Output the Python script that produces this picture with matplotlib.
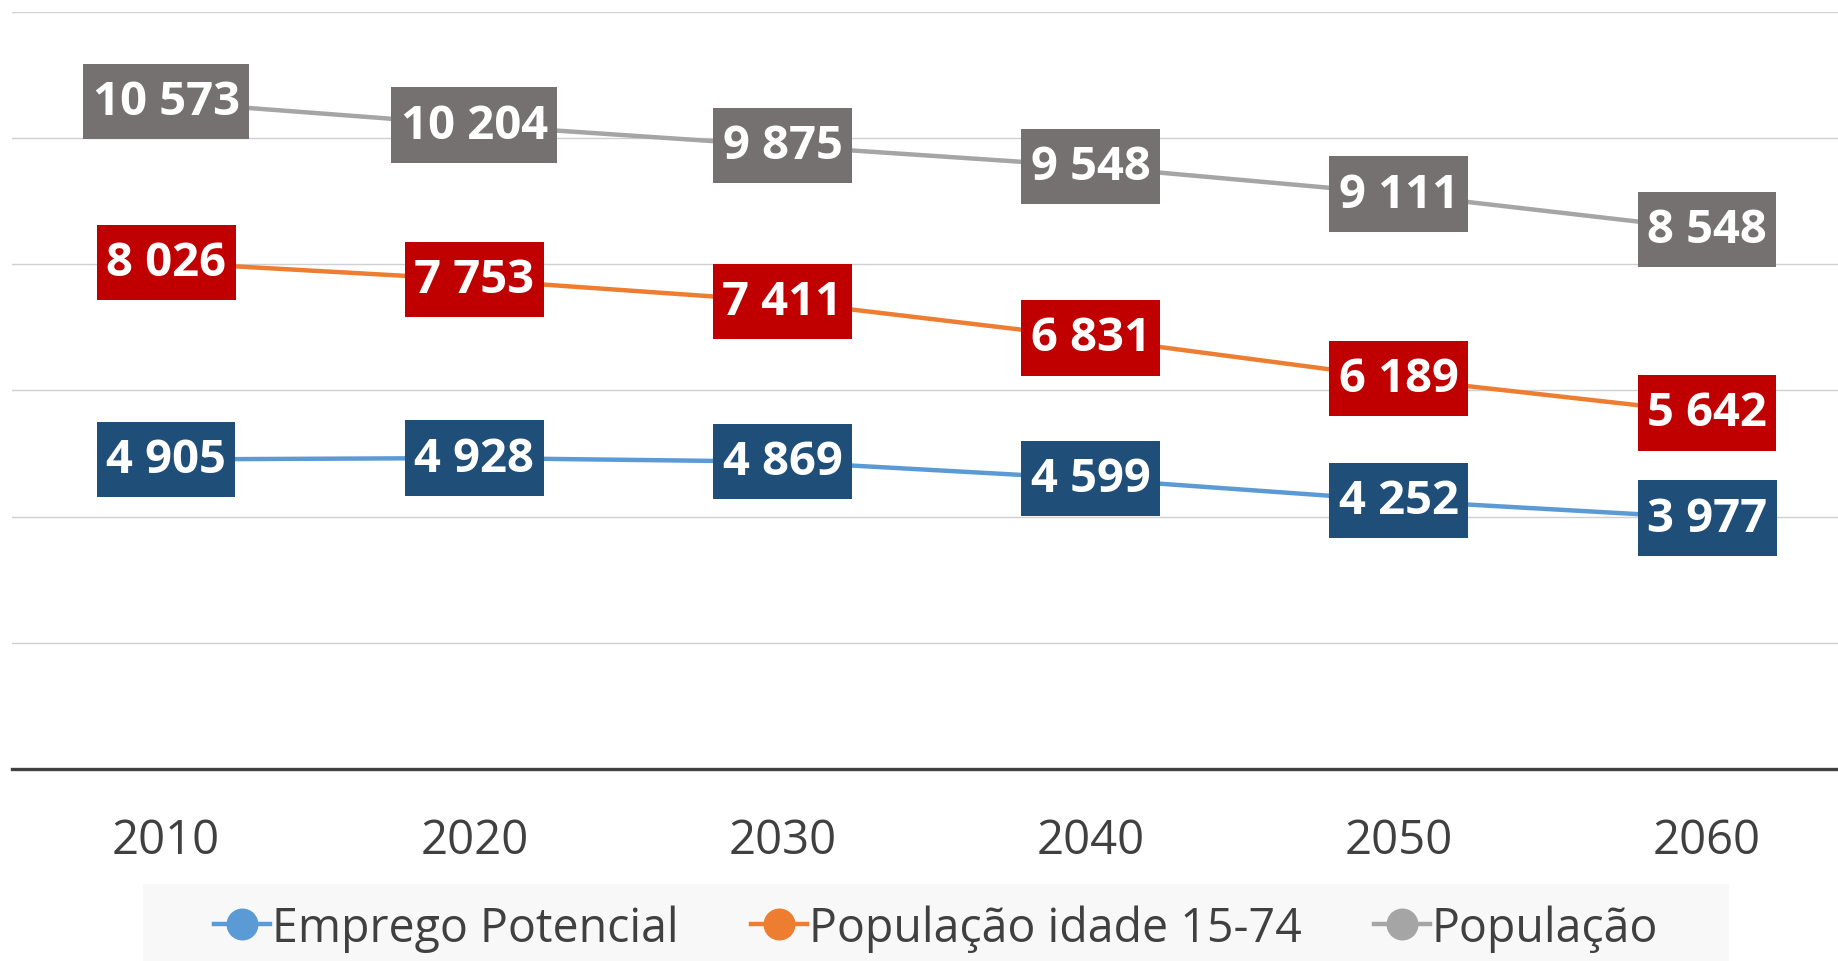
import matplotlib.pyplot as plt
from matplotlib.path import Path
from matplotlib.patches import Rectangle

plt.rcParams['font.family'] = ['Open Sans', 'DejaVu Sans']

years = ['2010', '2020', '2030', '2040', '2050', '2060']
emprego = [4905, 4928, 4869, 4599, 4252, 3977]
pop_1574 = [8026, 7753, 7411, 6831, 6189, 5642]
populacao = [10573, 10204, 9875, 9548, 9111, 8548]

series = [
    ('Emprego Potencial', emprego, '#5B9BD5', '#1F4E79'),
    ('População idade 15-74', pop_1574, '#ED7D31', '#C00000'),
    ('População', populacao, '#A5A5A5', '#767171'),
]


def label_box(x0, y0, width, height, mutation_size):
    # rectangle with more padding top/bottom than sides
    px, py = 0.2 * mutation_size, 0.3 * mutation_size
    x0, y0 = x0 - px, y0 - py
    x1, y1 = x0 + width + 2 * px, y0 + height + 2 * py
    return Path([(x0, y0), (x1, y0), (x1, y1), (x0, y1), (x0, y0)], closed=True)


fig = plt.figure(figsize=(18.38, 9.62), dpi=100)
ax = fig.add_axes([12 / 1838, (962 - 770) / 962, 1 - 12 / 1838, (770 - 12.7) / 962])

x = range(len(years))
for name, vals, lc, bc in series:
    ax.plot(x, vals, color=lc, lw=3.2, zorder=3, solid_capstyle='round')
    for i, v in zip(x, vals):
        ax.text(i, v, f'{v:,}'.replace(',', ' '), ha='center', va='center',
                color='white', fontsize=34, fontweight='bold', zorder=5,
                bbox=dict(boxstyle=label_box, fc=bc, ec='none'))

ax.set_xlim(-0.5, 5.425)
ax.set_ylim(0, 12000)
ax.set_yticks(range(2000, 12001, 2000))
ax.yaxis.grid(True, color='#D0D0D0', lw=1.0)
ax.set_axisbelow(True)
ax.tick_params(axis='y', left=False, labelleft=False)
ax.set_xticks(list(x))
ax.set_xticklabels(years, fontsize=34, color='#404040')
ax.tick_params(axis='x', length=0, pad=34)
for s in ['top', 'right', 'left']:
    ax.spines[s].set_visible(False)
ax.spines['bottom'].set_color('#404040')
ax.spines['bottom'].set_linewidth(2.4)

# legend background band (wider side padding than matplotlib's frame allows)
fig.patches.append(Rectangle((143 / 1838, 0), (1729 - 143) / 1838, 77 / 962,
                             transform=fig.transFigure, fc='#F8F8F8',
                             ec='none', zorder=0))

handles = [plt.Line2D([], [], color=lc, lw=3.2, marker='o', markersize=22)
           for _, _, lc, _ in series]
leg = fig.legend(handles, [s[0] for s in series], loc='center',
                 bbox_to_anchor=(936 / 1838, 33 / 962), ncol=3, fontsize=33.5,
                 frameon=False, handlelength=1.2, handletextpad=0.05,
                 columnspacing=1.55, borderpad=0.0, borderaxespad=0.0)
for t in leg.get_texts():
    t.set_color('#404040')

fig.savefig('out.png', dpi=100)
